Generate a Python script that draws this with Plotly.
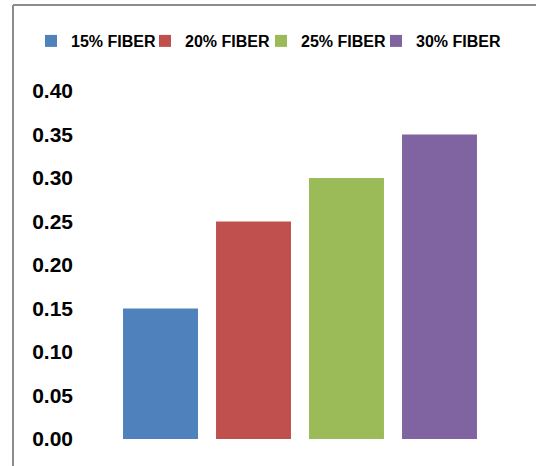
import plotly.graph_objects as go

series = ["15% FIBER", "20% FIBER", "25% FIBER", "30% FIBER"]
values = [0.15, 0.25, 0.30, 0.35]
colors = ["#4F81BD", "#C0504D", "#9BBB59", "#8064A2"]
y_ticks = [0.00, 0.05, 0.10, 0.15, 0.20, 0.25, 0.30, 0.35, 0.40]

FONT = "Liberation Sans, Arial, sans-serif"

W, H = 536, 466
L, R, T, B = 114, 50, 91, 27
pw, ph = W - L - R, H - T - B

fig = go.Figure()
legend_names = ["legend", "legend2", "legend3", "legend4"]
text_px = [68, 182, 298, 413]   # where each legend label starts
for i, (s, v, c) in enumerate(zip(series, values, colors)):
    fig.add_trace(go.Bar(x=[s], y=[v], name=s, marker=dict(color=c, line=dict(width=0)),
                         legend=legend_names[i], showlegend=True))

legend_common = dict(orientation="h", yanchor="middle", xanchor="left",
                     bgcolor="rgba(0,0,0,0)", borderwidth=0,
                     font=dict(family=FONT, size=16, color="#000000", weight="bold"))
lay_legends = {}
for name, px in zip(legend_names, text_px):
    d = dict(legend_common)
    d["x"] = (px - 37 - L) / pw
    d["y"] = (H - B - 41) / ph
    lay_legends[name] = d

frame_x0 = (13 - L) / pw
frame_x1 = (W + 20 - L) / pw
frame_y0 = (H - B - (H + 20)) / ph
frame_y1 = (H - B - 5) / ph
frame_line = dict(color="#8C8C8C", width=2)

fig.update_layout(
    width=W, height=H,
    margin=dict(l=L, r=R, t=T, b=B, autoexpand=False),
    paper_bgcolor="white", plot_bgcolor="white",
    barmode="overlay", bargap=0.194,
    xaxis=dict(showticklabels=False, showgrid=False, zeroline=False, showline=False, ticks=""),
    yaxis=dict(range=[0, 0.40], tickvals=y_ticks, tickformat=".2f",
               showgrid=False, zeroline=False, showline=False, ticks="",
               ticklabelstandoff=40,
               tickfont=dict(family=FONT, size=21, color="#000000", weight="bold")),
    shapes=[
        dict(type="line", xref="paper", yref="paper", x0=frame_x0, x1=frame_x0,
             y0=frame_y0, y1=frame_y1, line=frame_line, layer="above"),
        dict(type="line", xref="paper", yref="paper", x0=frame_x0, x1=frame_x1,
             y0=frame_y1, y1=frame_y1, line=frame_line, layer="above"),
    ],
    **lay_legends,
)

fig.write_html("out.html", config={"displayModeBar": False},
               post_script="document.body.style.margin='0';document.body.style.overflow='hidden';")
